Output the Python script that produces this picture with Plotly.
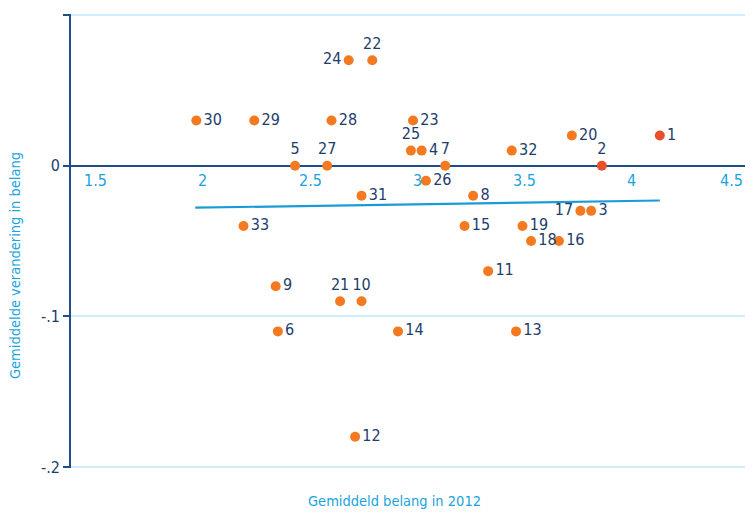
import plotly.graph_objects as go

# Data
labels = [str(i) for i in range(1, 34)]
belang_2012 = [4.13, 3.86, 3.81, 3.02, 2.43, 2.35, 3.13, 3.26, 2.34, 2.74,
               3.33, 2.71, 3.46, 2.91, 3.22, 3.66, 3.76, 3.53, 3.49, 3.72,
               2.64, 2.79, 2.98, 2.68, 2.97, 3.04, 2.58, 2.60, 2.24, 1.97,
               2.74, 3.44, 2.19]
verandering = [0.02, 0.00, -0.03, 0.01, 0.00, -0.11, 0.00, -0.02, -0.08, -0.09,
               -0.07, -0.18, -0.11, -0.11, -0.04, -0.05, -0.03, -0.05, -0.04, 0.02,
               -0.09, 0.07, 0.03, 0.07, 0.01, -0.01, 0.00, 0.03, 0.03, 0.03,
               -0.02, 0.01, -0.04]
label_pos = {"2": "top center", "5": "top center", "7": "top center", "10": "top center",
             "21": "top center", "22": "top center", "25": "top center", "27": "top center",
             "17": "middle left", "24": "middle left"}
highlight = {"1", "2"}

trend_x = [1.965, 4.13]
trend_y = [-0.0279, -0.0231]

x_ticks = [1.5, 2, 2.5, 3, 3.5, 4, 4.5]
x_tick_text = ["1.5", "2", "2.5", "3", "3.5", "4", "4.5"]
y_ticks = [0.1, 0, -0.1, -0.2]
y_tick_text = [".1", "0", "-.1", "-.2"]

FONT = "DejaVu Sans Condensed, Liberation Sans Narrow, sans-serif"
NAVY = "#1d3d6b"
AXIS = "#1d4e89"
LIGHT = "#1aa3de"
ORANGE = "#f47a22"
RED = "#e8502a"

fig = go.Figure()

fig.add_trace(go.Scatter(
    x=trend_x, y=trend_y, mode="lines",
    line=dict(color="#1a9bd7", width=2.2), hoverinfo="skip", showlegend=False))

fig.add_trace(go.Scatter(
    x=belang_2012, y=verandering, mode="markers+text",
    text=labels,
    textposition=[label_pos.get(l, "middle right") for l in labels],
    textfont=dict(family=FONT, size=16, color=NAVY),
    marker=dict(size=10, color=[RED if l in highlight else ORANGE for l in labels]),
    showlegend=False, cliponaxis=False))

# x tick labels sit just under the zero line (the x axis crosses at y = 0)
x_label_annotations = []
for i, (v, t) in enumerate(zip(x_ticks, x_tick_text)):
    last = i == len(x_ticks) - 1
    x_label_annotations.append(dict(
        text=t, x=v, y=0, xref="x", yref="y",
        xanchor="right" if last else "center", xshift=6 if last else 0,
        yanchor="top", yshift=-3, showarrow=False,
        font=dict(family=FONT, size=16, color=LIGHT)))

# page body has an 8px margin, so the figure is smaller than the window
fig.update_layout(
    width=737, height=503,
    margin=dict(l=63, r=0, t=6, b=43, autoexpand=False),
    paper_bgcolor="white", plot_bgcolor="white",
    font=dict(family=FONT, size=16, color=NAVY),
    xaxis=dict(
        range=[1.386, 4.527],
        tickvals=x_ticks, showticklabels=False,
        showgrid=False, zeroline=False, showline=False, ticks="",
        automargin=False, fixedrange=True,
    ),
    yaxis=dict(
        range=[-0.2007, 0.1007],
        tickvals=y_ticks, ticktext=y_tick_text,
        tickfont=dict(family=FONT, size=16, color=NAVY),
        showgrid=True, gridcolor="#cdeefa", gridwidth=1.5,
        zeroline=True, zerolinecolor=AXIS, zerolinewidth=1.8,
        showline=True, linecolor=AXIS, linewidth=1.8,
        ticks="outside", ticklen=6, tickcolor=AXIS, tickwidth=1.8,
        automargin=False,
    ),
    annotations=x_label_annotations + [
        dict(text="Gemiddeld belang in 2012", xref="paper", yref="paper",
             x=0.48, y=-0.05, xanchor="center", yanchor="top", showarrow=False,
             font=dict(family=FONT, size=14.5, color=LIGHT)),
        dict(text="Gemiddelde verandering in belang", xref="paper", yref="paper",
             x=-0.083, y=0.445, xanchor="center", yanchor="middle", showarrow=False,
             textangle=-90, font=dict(family=FONT, size=14.5, color=LIGHT)),
    ],
)

fig.write_html("out.html")
